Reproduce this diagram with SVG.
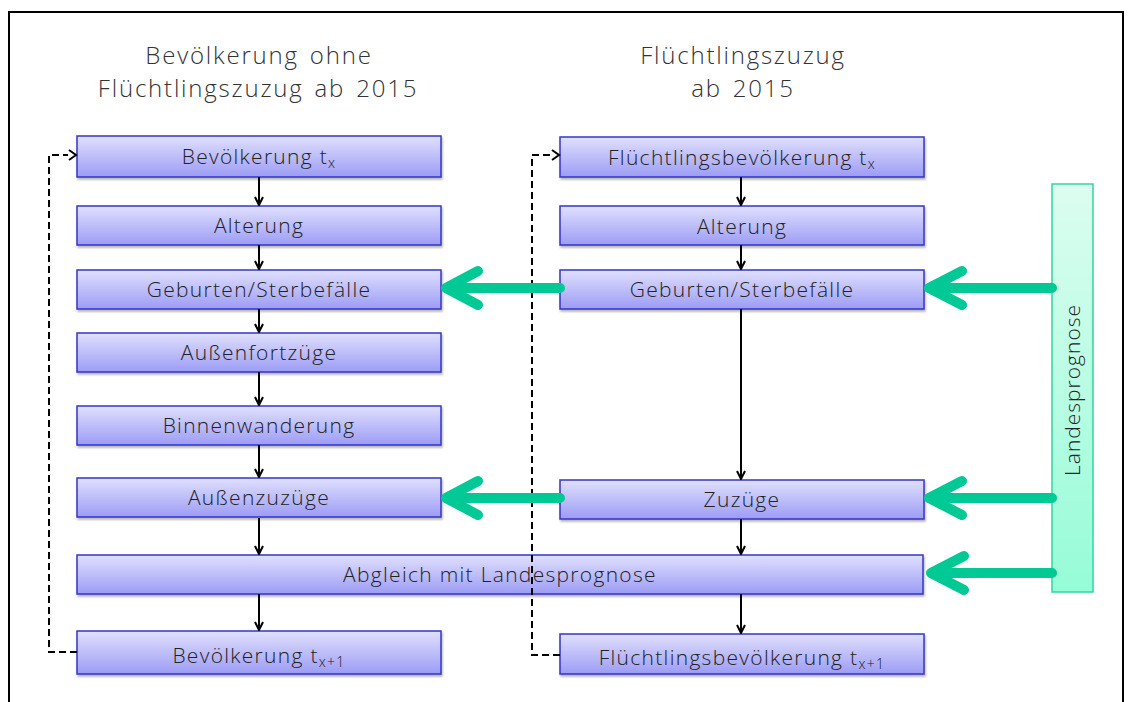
<svg xmlns="http://www.w3.org/2000/svg" width="1134" height="702" viewBox="0 0 1134 702">
<defs>
<linearGradient id="gb" x1="0" y1="0" x2="0" y2="1"><stop offset="0" stop-color="#e0e0fd"/><stop offset="1" stop-color="#9c9cf5"/></linearGradient>
<linearGradient id="gg" x1="0" y1="0" x2="0" y2="1"><stop offset="0" stop-color="#dcfdf0"/><stop offset="1" stop-color="#96fcd8"/></linearGradient>
<filter id="sh" x="-10%" y="-20%" width="120%" height="150%"><feDropShadow dx="1" dy="2" stdDeviation="1.2" flood-color="#000" flood-opacity="0.3"/></filter>
<marker id="ah" viewBox="0 0 10 10" refX="9" refY="5" markerWidth="10" markerHeight="10" markerUnits="userSpaceOnUse" orient="auto"><path d="M1,1 L9,5 L1,9" fill="none" stroke="#000" stroke-width="2"/></marker>
</defs>
<style>
.box{fill:url(#gb);stroke:#3535c8;stroke-width:1.5;filter:url(#sh)}
.lp{fill:url(#gg);stroke:#33d3a4;stroke-width:1.5}
.t{font-family:"Open Sans","Liberation Sans",sans-serif;font-weight:300;font-size:21px;fill:#222;text-anchor:middle;letter-spacing:1.3px}
.h{font-family:"Open Sans","Liberation Sans",sans-serif;font-weight:300;font-size:24px;fill:#333;text-anchor:middle;letter-spacing:1.8px;word-spacing:3px}
.s{font-size:14px}
.c{stroke:#000;stroke-width:2;fill:none}
.d{stroke:#000;stroke-width:2;fill:none;stroke-dasharray:7,4}
.g{stroke:#00c995;stroke-width:10;fill:none;stroke-linecap:round;stroke-linejoin:round}
</style>
<rect x="0" y="0" width="1134" height="702" fill="#fff"/>
<path d="M9,712 V12 H1123 V712" fill="none" stroke="#000" stroke-width="2"/>
<g id="titles">
<text class="h" x="259" y="64">Bevölkerung ohne</text>
<text class="h" x="258" y="97">Flüchtlingszuzug ab 2015</text>
<text class="h" x="743" y="64">Flüchtlingszuzug</text>
<text class="h" x="743" y="97">ab 2015</text>
</g>
<g id="n1"><rect class="box" x="77" y="136" width="364" height="41"/><text class="t" x="259" y="164">Bevölkerung t<tspan class="s" dy="4">x</tspan></text></g>
<g id="n2"><rect class="box" x="77" y="206" width="364" height="39"/><text class="t" x="259" y="233">Alterung</text></g>
<g id="n3"><rect class="box" x="77" y="270" width="364" height="39"/><text class="t" x="259" y="297">Geburten/Sterbefälle</text></g>
<g id="n4"><rect class="box" x="77" y="333" width="364" height="39"/><text class="t" x="259" y="360">Außenfortzüge</text></g>
<g id="n5"><rect class="box" x="77" y="406" width="364" height="39"/><text class="t" x="259" y="433">Binnenwanderung</text></g>
<g id="n6"><rect class="box" x="77" y="478" width="364" height="39"/><text class="t" x="259" y="505">Außenzuzüge</text></g>
<g id="n7"><rect class="box" x="77" y="555" width="846" height="39"/><text class="t" x="500" y="582">Abgleich mit Landesprognose</text></g>
<g id="n8"><rect class="box" x="77" y="631" width="364" height="43"/><text class="t" x="259" y="663">Bevölkerung t<tspan class="s" dy="4">x+1</tspan></text></g>
<g id="m1"><rect class="box" x="560" y="137" width="364" height="40"/><text class="t" x="742" y="165">Flüchtlingsbevölkerung t<tspan class="s" dy="4">x</tspan></text></g>
<g id="m2"><rect class="box" x="560" y="206" width="364" height="39"/><text class="t" x="742" y="234">Alterung</text></g>
<g id="m3"><rect class="box" x="560" y="270" width="364" height="39"/><text class="t" x="742" y="297">Geburten/Sterbefälle</text></g>
<g id="m4"><rect class="box" x="560" y="480" width="364" height="39"/><text class="t" x="742" y="507">Zuzüge</text></g>
<g id="m5"><rect class="box" x="560" y="634" width="364" height="40"/><text class="t" x="742" y="665">Flüchtlingsbevölkerung t<tspan class="s" dy="4">x+1</tspan></text></g>
<g id="lp"><rect class="lp" x="1052" y="184" width="41" height="408"/><text class="t" transform="translate(1080,390) rotate(-90)" style="font-size:21px;letter-spacing:1px">Landesprognose</text></g>
<g id="connectors">
<path class="c" marker-end="url(#ah)" d="M259,177 V205"/>
<path class="c" marker-end="url(#ah)" d="M259,245 V269"/>
<path class="c" marker-end="url(#ah)" d="M259,309 V332"/>
<path class="c" marker-end="url(#ah)" d="M259,372 V405"/>
<path class="c" marker-end="url(#ah)" d="M259,445 V477"/>
<path class="c" marker-end="url(#ah)" d="M259,518 V554"/>
<path class="c" marker-end="url(#ah)" d="M259,594 V630"/>
<path class="c" marker-end="url(#ah)" d="M741,177 V205"/>
<path class="c" marker-end="url(#ah)" d="M741,245 V269"/>
<path class="c" marker-end="url(#ah)" d="M741,309 V479"/>
<path class="c" marker-end="url(#ah)" d="M741,519 V554"/>
<path class="c" marker-end="url(#ah)" d="M741,594 V633"/>
<path class="d" d="M77,652 H49 V155 H68"/><path class="c" d="M69,150 L76,155 L69,160"/>
<path class="d" d="M560,655 H532 V155 H551"/><path class="c" d="M552,150 L559,155 L552,160"/>
<path class="g" d="M560,288 H446 M478,271 L446,288 L478,305"/>
<path class="g" d="M560,498 H446 M478,481 L446,498 L478,515"/>
<path class="g" d="M1052,288 H929 M962,271 L929,288 L962,305"/>
<path class="g" d="M1052,498 H929 M962,481 L929,498 L962,515"/>
<path class="g" d="M1052,573 H931 M964,556 L931,573 L964,590"/>
</g>
</svg>
